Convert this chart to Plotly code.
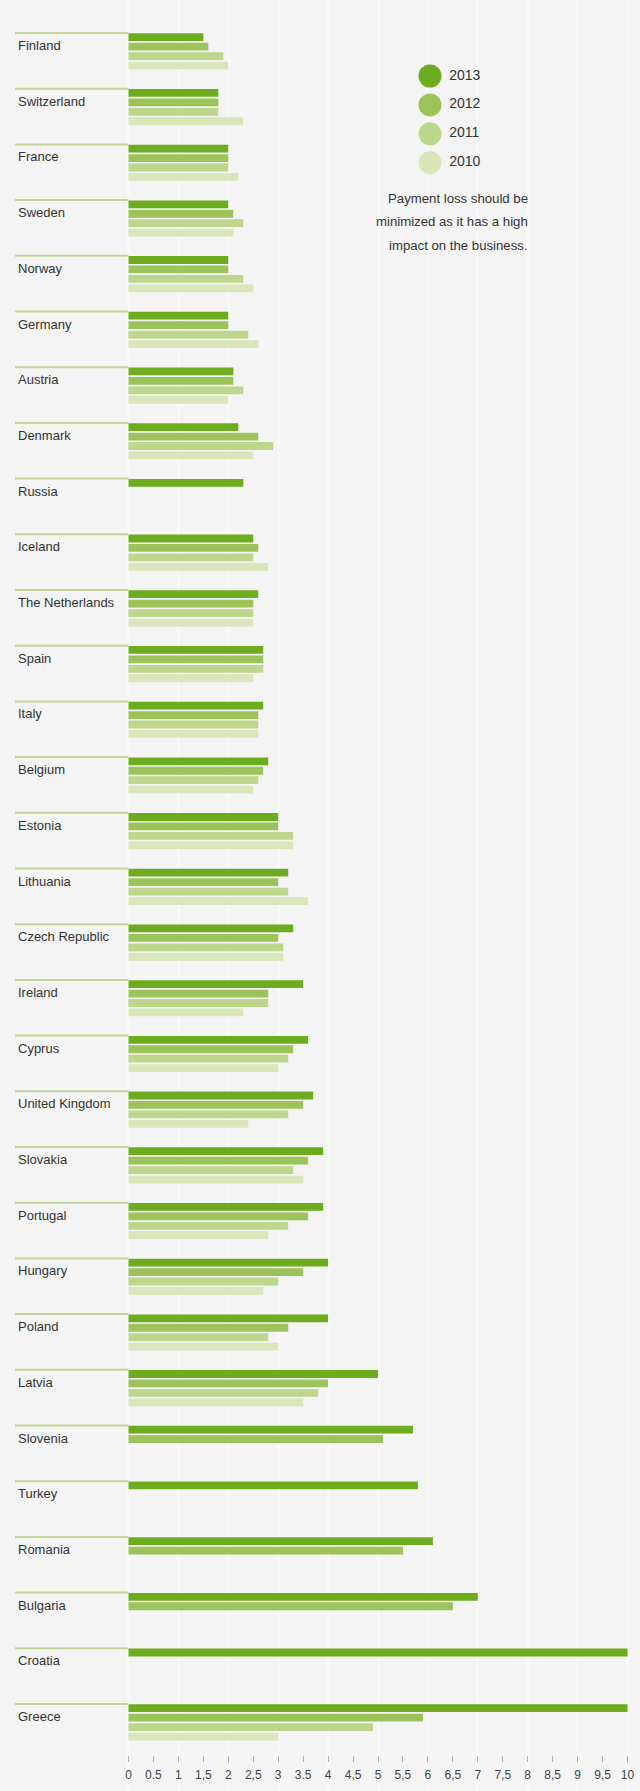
import plotly.graph_objects as go

# ---- data -------------------------------------------------------------
COUNTRIES = [
    "Finland", "Switzerland", "France", "Sweden", "Norway", "Germany",
    "Austria", "Denmark", "Russia", "Iceland", "The Netherlands", "Spain",
    "Italy", "Belgium", "Estonia", "Lithuania", "Czech Republic", "Ireland",
    "Cyprus", "United Kingdom", "Slovakia", "Portugal", "Hungary", "Poland",
    "Latvia", "Slovenia", "Turkey", "Romania", "Bulgaria", "Croatia", "Greece",
]
YEARS = ["2013", "2012", "2011", "2010"]

V2013 = [1.5, 1.8, 2.0, 2.0, 2.0, 2.0, 2.1, 2.2, 2.3, 2.5, 2.6, 2.7, 2.7, 2.8, 3.0,
         3.2, 3.3, 3.5, 3.6, 3.7, 3.9, 3.9, 4.0, 4.0, 5.0, 5.7, 5.8, 6.1, 7.0, 10.0, 10.0]
V2012 = [1.6, 1.8, 2.0, 2.1, 2.0, 2.0, 2.1, 2.6, None, 2.6, 2.5, 2.7, 2.6, 2.7, 3.0,
         3.0, 3.0, 2.8, 3.3, 3.5, 3.6, 3.6, 3.5, 3.2, 4.0, 5.1, None, 5.5, 6.5, None, 5.9]
V2011 = [1.9, 1.8, 2.0, 2.3, 2.3, 2.4, 2.3, 2.9, None, 2.5, 2.5, 2.7, 2.6, 2.6, 3.3,
         3.2, 3.1, 2.8, 3.2, 3.2, 3.3, 3.2, 3.0, 2.8, 3.8, None, None, None, None, None, 4.9]
V2010 = [2.0, 2.3, 2.2, 2.1, 2.5, 2.6, 2.0, 2.5, None, 2.8, 2.5, 2.5, 2.6, 2.5, 3.3,
         3.6, 3.1, 2.3, 3.0, 2.4, 3.5, 2.8, 2.7, 3.0, 3.5, None, None, None, None, None, 3.0]
SERIES = [V2013, V2012, V2011, V2010]

TICK_VALUES = [i * 0.5 for i in range(21)]
TICK_LABELS = ["0", "0.5", "1", "1,5", "2", "2,5", "3", "3.5", "4", "4,5", "5",
               "5,5", "6", "6,5", "7", "7,5", "8", "8,5", "9", "9,5", "10"]
GRID_VALUES = list(range(0, 11))

NOTE_LINES = ["Payment loss should be",
              "minimized as it has a high",
              "impact on the business."]

# ---- styling / layout ---------------------------------------------------
W, H = 640, 1791
BG = "#f4f4f4"
COLORS = ["#6cac1e", "#9cc35a", "#bcd68c", "#d8e6ba"]
FONT = "Liberation Sans, Arial, Helvetica, sans-serif"
TEXT = "#333333"

X0_PX = 128.5        # pixel position of value 0
UNIT_PX = 49.9       # pixels per unit on the value axis
ROW_PX = 55.7        # pixels between country groups
FIRST_ROW_PX = 33.0  # pixel position of the first group's rule

x_range = [-X0_PX / UNIT_PX, (W - X0_PX) / UNIT_PX]
y_top = -FIRST_ROW_PX / ROW_PX
y_range = [y_top + H / ROW_PX, y_top]          # reversed: first country on top

BAR_W = 7.8 / ROW_PX
BAR_STEP = 9.45 / ROW_PX
RULE_START = (15.0 - X0_PX) / UNIT_PX

n = len(COUNTRIES)
rows = list(range(n))

fig = go.Figure()

# grouped horizontal bars, one trace per year
for k, (year, vals, color) in enumerate(zip(YEARS, SERIES, COLORS)):
    fig.add_trace(go.Bar(
        x=vals, y=rows, orientation="h", name=year,
        width=BAR_W, offset=0.005 + k * BAR_STEP,
        marker=dict(color=color, line=dict(width=0)),
        showlegend=False, hoverinfo="x+name",
    ))

# thin rule above each country label
rx, ry = [], []
for i in rows:
    rx += [RULE_START, 0, None]
    ry += [i, i, None]
fig.add_trace(go.Scatter(
    x=rx, y=ry, xaxis="x2", yaxis="y", mode="lines",
    line=dict(color="#c3d39a", width=2), showlegend=False, hoverinfo="skip",
))

# legend drawn as circles with year labels (pixel-space axes)
LEG_X, LEG_Y0, LEG_STEP = 430, 76, 28.9
fig.add_trace(go.Scatter(
    x=[LEG_X] * len(YEARS),
    y=[LEG_Y0 + LEG_STEP * k for k in range(len(YEARS))],
    xaxis="x3", yaxis="y3",
    mode="markers+text", text=[" " + y for y in YEARS], textposition="middle right",
    textfont=dict(family=FONT, size=14, color=TEXT),
    marker=dict(size=23, color=COLORS, line=dict(width=0)),
    showlegend=False, hoverinfo="skip",
))

annotations = []
for i, name in enumerate(COUNTRIES):
    annotations.append(dict(
        x=16 / W, xref="paper", xanchor="left",
        y=i + 0.225, yref="y", yanchor="middle",
        text=name, showarrow=False,
        font=dict(family=FONT, size=13, color=TEXT),
    ))
for j, line in enumerate(NOTE_LINES):
    annotations.append(dict(
        x=530 / W, xref="paper", xanchor="right",
        y=1 - (198 + 23.5 * j) / H, yref="paper", yanchor="middle",
        text=line, showarrow=False,
        font=dict(family=FONT, size=13.2, color=TEXT),
    ))

fig.update_layout(
    width=W, height=H,
    margin=dict(l=0, r=0, t=0, b=0, pad=0),
    paper_bgcolor=BG, plot_bgcolor="rgba(0,0,0,0)",
    barmode="overlay",
    showlegend=False,
    font=dict(family=FONT, color=TEXT),
    xaxis=dict(
        range=x_range, anchor="free", position=36 / H,
        tickmode="array", tickvals=TICK_VALUES, ticktext=TICK_LABELS,
        ticks="outside", ticklen=6, tickwidth=1, tickcolor="#b0b0b0",
        ticklabelstandoff=3,
        tickfont=dict(family=FONT, size=12, color="#444444"),
        showgrid=False, zeroline=False, showline=False, fixedrange=True,
    ),
    xaxis2=dict(
        range=x_range, overlaying="x", anchor="y",
        tickmode="array", tickvals=GRID_VALUES, showticklabels=False, ticks="",
        showgrid=True, gridcolor="rgba(255,255,255,0.35)", gridwidth=3,
        zeroline=False, showline=False, fixedrange=True,
    ),
    yaxis=dict(
        range=y_range, showticklabels=False, ticks="", showgrid=False,
        zeroline=False, showline=False, fixedrange=True,
    ),
    xaxis3=dict(domain=[0, 1], range=[0, W], anchor="y3", visible=False, fixedrange=True),
    yaxis3=dict(domain=[0, 1], range=[H, 0], anchor="x3", visible=False, fixedrange=True),
    annotations=annotations,
    shapes=[dict(
        type="rect", xref="paper", yref="paper", layer="between",
        x0=340 / W, x1=1, y0=1 - 275 / H, y1=1,
        fillcolor=BG, line=dict(width=0),
    )],
)

fig.write_html("out.html")
